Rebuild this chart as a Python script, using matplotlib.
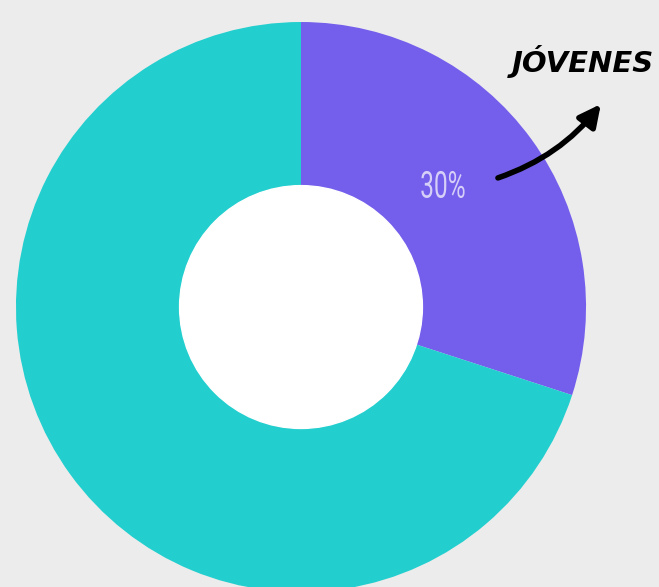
import matplotlib.pyplot as plt
from matplotlib.patches import Circle, PathPatch
from matplotlib.textpath import TextPath
from matplotlib.font_manager import FontProperties
from matplotlib.transforms import Affine2D

# datos
categorias = ['Jóvenes', 'Resto']
valores = [30, 70]
colores = ['#745FEC', '#23CECE']
etiqueta = '30%'
titulo = 'JÓVENES'

fig = plt.figure(figsize=(6.59, 5.87), dpi=100, facecolor='#ECECEC')
ax = fig.add_axes([0, 0, 1, 1])
ax.set_facecolor('#ECECEC')

ax.pie(valores, colors=colores, startangle=90, counterclock=False, radius=1,
       wedgeprops=dict(linewidth=0))
ax.add_patch(Circle((0, 0), 0.426, color='white', zorder=3))

ax.set_xlim(-1.056, 1.256)
ax.set_ylim(-0.982, 1.077)
ax.set_aspect('equal')
ax.axis('off')

# etiqueta condensada: texto como trazo, estrechado en horizontal
tp = TextPath((0, 0), etiqueta, size=0.13, prop=FontProperties(family='Roboto', weight='normal'))
ext = tp.get_extents()
cx, cy = (ext.x0 + ext.x1) / 2, (ext.y0 + ext.y1) / 2
tr = Affine2D().translate(-cx, -cy).scale(0.66, 1).translate(0.498, 0.43)
ax.add_patch(PathPatch(tr.transform_path(tp), color='#D6CFF7', lw=0, zorder=4))

ax.text(0.99, 0.86, titulo, color='black', fontsize=21, fontweight='bold', style='italic',
        ha='center', va='center')

ax.annotate('', xy=(1.052, 0.712), xytext=(0.691, 0.453),
            arrowprops=dict(arrowstyle='-|>,head_length=1.3,head_width=0.65', color='black',
                            lw=4, shrinkA=0, shrinkB=0, connectionstyle='arc3,rad=0.15'))

plt.savefig('out.png', dpi=100, facecolor='#ECECEC')
